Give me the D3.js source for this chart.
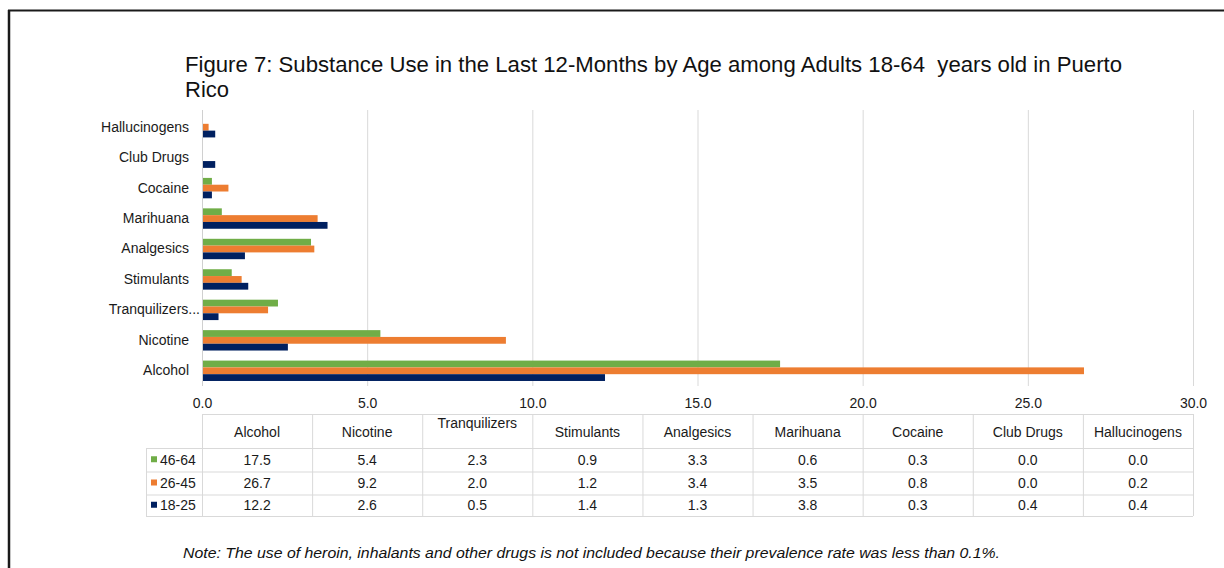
<!DOCTYPE html>
<html>
<head>
<meta charset="utf-8">
<script src="https://cdn.jsdelivr.net/npm/d3@7"></script>
<style>
  html, body { margin: 0; padding: 0; background: #fff; }
  svg { display: block; font-family: "Liberation Sans", Arial, sans-serif; }
</style>
</head>
<body>
<svg id="chart" width="1224" height="568"></svg>
<script>
// Substances, bottom to top of the bar chart / left to right in the table
const categories = ["Alcohol", "Nicotine", "Tranquilizers", "Stimulants", "Analgesics",
                    "Marihuana", "Cocaine", "Club Drugs", "Hallucinogens"];
const axisLabels = ["Alcohol", "Nicotine", "Tranquilizers...", "Stimulants", "Analgesics",
                    "Marihuana", "Cocaine", "Club Drugs", "Hallucinogens"];
const seriesNames = ["46-64", "26-45", "18-25"];
const values46_64 = [17.5, 5.4, 2.3, 0.9, 3.3, 0.6, 0.3, 0.0, 0.0];
const values26_45 = [26.7, 9.2, 2.0, 1.2, 3.4, 3.5, 0.8, 0.0, 0.2];
const values18_25 = [12.2, 2.6, 0.5, 1.4, 1.3, 3.8, 0.3, 0.4, 0.4];
const seriesColors = ["#70AD47", "#ED7D31", "#002060"];
const xTicks = [0, 5, 10, 15, 20, 25, 30];

const series = [values46_64, values26_45, values18_25];
const svg = d3.select("#chart");
const fontSm = 14;

// Frame
svg.append("line").attr("x1", 9).attr("x2", 9).attr("y1", 10).attr("y2", 568)
  .attr("stroke", "#1a1a1a").attr("stroke-width", 2.5);
svg.append("line").attr("x1", 8).attr("x2", 1224).attr("y1", 10.5).attr("y2", 10.5)
  .attr("stroke", "#1a1a1a").attr("stroke-width", 2);

// Title
const title = svg.append("text").attr("xml:space", "preserve")
  .attr("font-size", 22).attr("fill", "#111");
title.append("tspan").attr("x", 185).attr("y", 72)
  .attr("textLength", 937).attr("lengthAdjust", "spacingAndGlyphs")
  .text("Figure 7: Substance Use in the Last 12-Months by Age among Adults 18-64  years old in Puerto");
title.append("tspan").attr("x", 185).attr("y", 97).text("Rico");

// Scales
const plotLeft = 202, plotRight = 1193, plotTop = 112, plotBottom = 386;
const x = d3.scaleLinear().domain([0, 30]).range([plotLeft, plotRight]);
const y = d3.scaleBand().domain(categories).range([plotBottom, plotTop]).padding(0);
const groupH = 20.4;
const ySub = d3.scaleBand().domain(seriesNames).range([0, groupH]).padding(0);

// Grid
svg.append("g").selectAll("line").data(xTicks.slice(1)).join("line")
  .attr("x1", d => x(d) + 0.5).attr("x2", d => x(d) + 0.5)
  .attr("y1", plotTop - 2).attr("y2", plotBottom)
  .attr("stroke", "#d9d9d9").attr("stroke-width", 1);

// Bars
const groups = svg.append("g").selectAll("g").data(categories).join("g")
  .attr("transform", c => `translate(0,${y(c) + (y.bandwidth() - groupH) / 2})`);
groups.selectAll("rect")
  .data((c, i) => seriesNames.map((s, k) => ({ s, k, v: series[k][i] })))
  .join("rect")
  .attr("x", x(0))
  .attr("y", d => ySub(d.s))
  .attr("width", d => x(d.v) - x(0))
  .attr("height", ySub.bandwidth())
  .attr("fill", d => seriesColors[d.k]);

// Value axis line
svg.append("line").attr("x1", plotLeft + 0.5).attr("x2", plotLeft + 0.5)
  .attr("y1", plotTop - 2).attr("y2", plotBottom)
  .attr("stroke", "#d0d0d0");

// Category labels (the truncated label's dots run up to the axis)
const yAxis = d3.axisLeft(y).tickSize(0).tickPadding(13).tickFormat((c, i) => axisLabels[i]);
const ya = svg.append("g").attr("transform", `translate(${plotLeft},0)`).call(yAxis);
ya.select(".domain").remove();
ya.selectAll("text").attr("font-size", fontSm).attr("fill", "#1a1a1a")
  .attr("font-family", "'Liberation Sans', Arial, sans-serif");
ya.selectAll(".tick").filter(c => c === "Tranquilizers").select("text")
  .attr("x", -2).attr("letter-spacing", (d, i) => 0);

// Tick labels
const xAxis = d3.axisBottom(x).tickValues(xTicks).tickFormat(d3.format(".1f")).tickSize(0).tickPadding(12);
const xa = svg.append("g").attr("transform", `translate(0,${plotBottom})`).call(xAxis);
xa.select(".domain").remove();
xa.selectAll("text").attr("font-size", fontSm).attr("fill", "#1a1a1a")
  .attr("font-family", "'Liberation Sans', Arial, sans-serif");

// Data table
const colW = (plotRight - plotLeft) / categories.length;
const rowTops = [414, 448, 471.5, 494.5, 516];
const legendLeft = 146;
const tg = svg.append("g");
const gridColor = "#d9d9d9";
// horizontal rules
tg.append("line").attr("x1", plotLeft).attr("x2", plotRight)
  .attr("y1", rowTops[0] + 0.5).attr("y2", rowTops[0] + 0.5).attr("stroke", gridColor);
rowTops.slice(1).forEach(yy => {
  tg.append("line").attr("x1", legendLeft).attr("x2", plotRight)
    .attr("y1", yy + 0.5).attr("y2", yy + 0.5).attr("stroke", gridColor);
});
// vertical rules
d3.range(categories.length + 1).forEach(i => {
  tg.append("line").attr("x1", plotLeft + i * colW + 0.5).attr("x2", plotLeft + i * colW + 0.5)
    .attr("y1", rowTops[0]).attr("y2", rowTops[4]).attr("stroke", gridColor);
});
tg.append("line").attr("x1", legendLeft + 0.5).attr("x2", legendLeft + 0.5)
  .attr("y1", rowTops[1]).attr("y2", rowTops[4]).attr("stroke", gridColor);

// header
tg.selectAll("text.h").data(categories).join("text").attr("class", "h")
  .attr("x", (c, i) => plotLeft + (i + 0.5) * colW)
  .attr("y", c => c === "Tranquilizers" ? 428 : 437)
  .attr("text-anchor", "middle").attr("font-size", fontSm).attr("fill", "#1a1a1a")
  .text(c => c);

// rows
seriesNames.forEach((s, k) => {
  const yMid = (rowTops[k + 1] + rowTops[k + 2]) / 2;
  tg.append("rect").attr("x", 151).attr("y", yMid - 3.5).attr("width", 6).attr("height", 6)
    .attr("fill", seriesColors[k]);
  tg.append("text").attr("x", 160).attr("y", yMid + 5).attr("font-size", fontSm)
    .attr("fill", "#1a1a1a").text(s);
  tg.append("g").selectAll("text").data(series[k]).join("text")
    .attr("x", (v, i) => plotLeft + (i + 0.5) * colW)
    .attr("y", yMid + 5)
    .attr("text-anchor", "middle").attr("font-size", fontSm).attr("fill", "#1a1a1a")
    .text(v => d3.format(".1f")(v));
});

// Note
svg.append("text").attr("x", 183).attr("y", 558)
  .attr("font-size", 14).attr("font-style", "italic").attr("fill", "#111")
  .attr("textLength", 817).attr("lengthAdjust", "spacingAndGlyphs")
  .text("Note: The use of heroin, inhalants and other drugs is not included because their prevalence rate was less than 0.1%.");
</script>
</body>
</html>
